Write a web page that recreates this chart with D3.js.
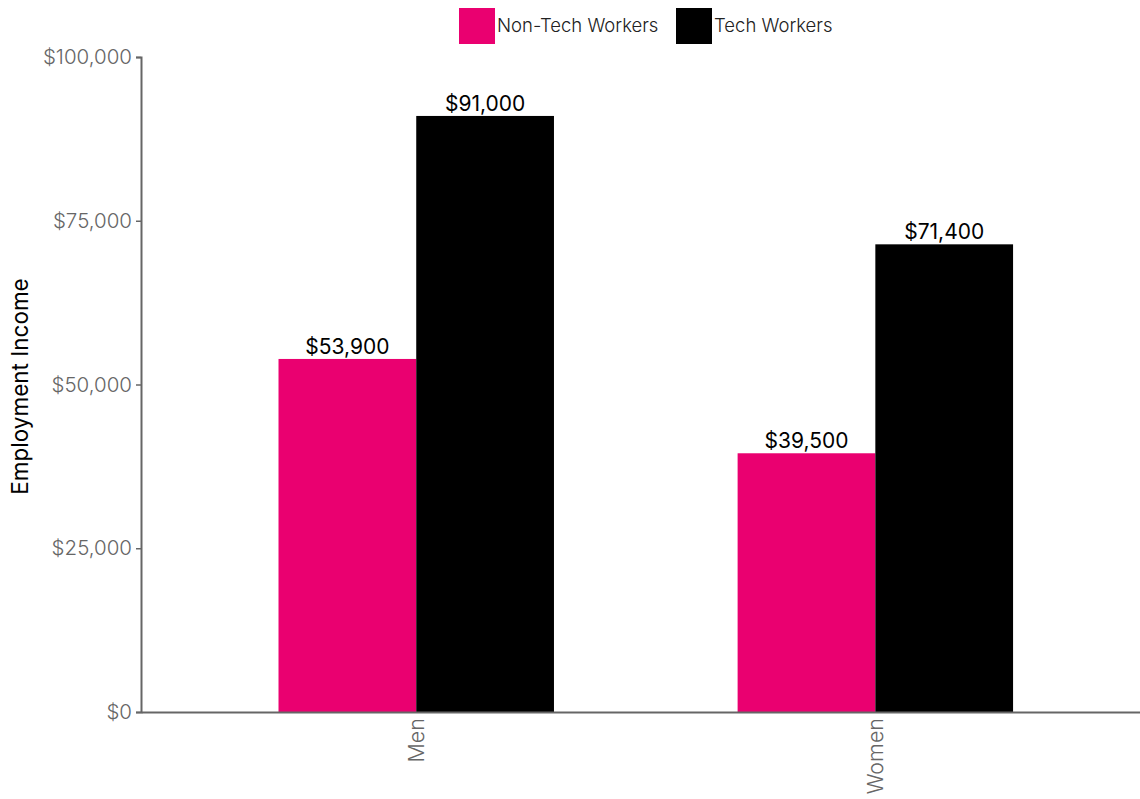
<!DOCTYPE html>
<html>
<head>
<meta charset="utf-8">
<script src="https://cdn.jsdelivr.net/npm/d3@7"></script>
<style>
  html, body { margin: 0; padding: 0; background: #fff; }
  svg { display: block; font-family: Inter, "Liberation Sans", sans-serif; }
</style>
</head>
<body>
<svg id="chart" width="1140" height="799"></svg>
<script>
// Median employment income by gender and worker type
const groups = ["Men", "Women"];
const seriesNames = ["Non-Tech Workers", "Tech Workers"];
const nonTechValues = [53900, 39500];
const techValues = [91000, 71400];
const seriesColors = ["#EA0070", "#000000"];
const yTicks = [0, 25000, 50000, 75000, 100000];

const svg = d3.select("#chart");
const margin = { left: 141, right: 0, top: 57, bottom: 87 };
const W = 1140, H = 799;
const plotBottom = H - margin.bottom; // 712

const rows = groups.map((g, i) => ({
  group: g,
  values: [nonTechValues[i], techValues[i]]
}));

const x = d3.scaleBand()
  .domain(groups)
  .range([margin.left, W - margin.right])
  .paddingInner(0.4)
  .paddingOuter(0.288)
  .align(0.52);

const xSub = d3.scaleBand()
  .domain(seriesNames)
  .range([0, x.bandwidth()]);

const y = d3.scaleLinear()
  .domain([0, 100000])
  .range([plotBottom, margin.top]);

const money = d3.format("$,.0f");

// Bars
const g = svg.selectAll("g.group")
  .data(rows)
  .join("g")
  .attr("class", "group")
  .attr("transform", d => `translate(${x(d.group)},0)`);

g.selectAll("rect")
  .data(d => d.values.map((v, i) => ({ key: seriesNames[i], value: v, i })))
  .join("rect")
  .attr("x", d => xSub(d.key))
  .attr("width", xSub.bandwidth())
  .attr("y", d => y(d.value))
  .attr("height", d => y(0) - y(d.value))
  .attr("fill", d => seriesColors[d.i]);

// Value labels
g.selectAll("text.value")
  .data(d => d.values.map((v, i) => ({ key: seriesNames[i], value: v })))
  .join("text")
  .attr("class", "value")
  .attr("x", d => xSub(d.key) + xSub.bandwidth() / 2)
  .attr("y", d => y(d.value) - 5)
  .attr("text-anchor", "middle")
  .attr("font-size", 21)
  .attr("fill", "#000")
  .text(d => money(d.value));

// Y axis
const yAxis = svg.append("g")
  .attr("transform", `translate(${margin.left},0)`)
  .call(d3.axisLeft(y).tickValues(yTicks).tickFormat(money).tickSize(5).tickSizeOuter(5));
yAxis.select(".domain").attr("stroke", "#666").attr("stroke-width", 2);
yAxis.selectAll(".tick line").attr("stroke", "#666").attr("stroke-width", 1.5);
yAxis.selectAll(".tick text")
  .attr("font-size", 20.5)
  .attr("font-weight", 300)
  .attr("fill", "#666")
  .attr("x", -9)
  .attr("font-family", "Inter, sans-serif");

// X axis
const xAxis = svg.append("g")
  .attr("transform", `translate(0,${plotBottom})`)
  .call(d3.axisBottom(x).tickSize(0).tickSizeOuter(0));
xAxis.select(".domain").attr("stroke", "#666").attr("stroke-width", 2);
xAxis.selectAll(".tick text")
  .attr("font-size", 21.5)
  .attr("font-weight", 300)
  .attr("fill", "#666")
  .attr("font-family", "Inter, sans-serif")
  .attr("transform", "rotate(-90)")
  .attr("text-anchor", "end")
  .attr("dy", "0.35em")
  .attr("x", -6)
  .attr("y", 0);

// Y axis title
svg.append("text")
  .attr("transform", `translate(28,${(plotBottom + margin.top) / 2 + 2}) rotate(-90)`)
  .attr("text-anchor", "middle")
  .attr("font-size", 22.5)
  .attr("fill", "#000")
  .text("Employment Income");

// Legend
const legendX = [459, 676];
const legend = svg.selectAll("g.legend")
  .data(seriesNames)
  .join("g")
  .attr("class", "legend")
  .attr("transform", (d, i) => `translate(${legendX[i]},8)`);
legend.append("rect")
  .attr("width", 36)
  .attr("height", 36)
  .attr("fill", (d, i) => seriesColors[i]);
legend.append("text")
  .attr("x", 38)
  .attr("y", 18)
  .attr("dy", "0.35em")
  .attr("font-size", 18.5)
  .attr("font-weight", 300)
  .attr("fill", "#222")
  .text(d => d);
</script>
</body>
</html>
